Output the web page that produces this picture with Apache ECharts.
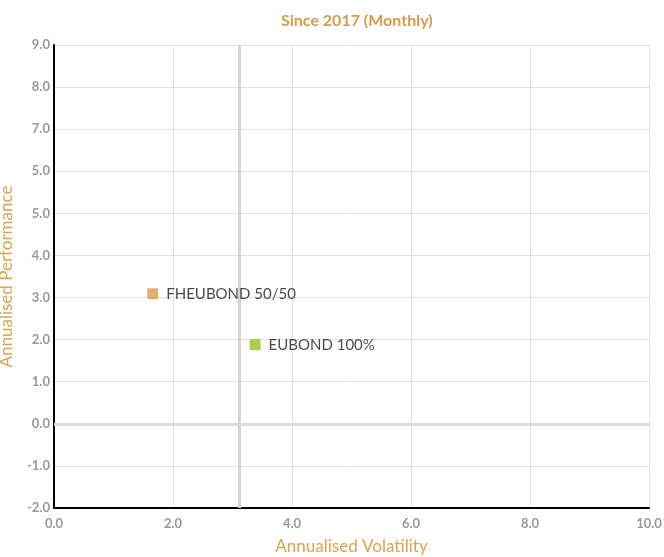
<!DOCTYPE html>
<html>
<head>
<meta charset="utf-8">
<script src="https://cdn.jsdelivr.net/npm/echarts@6/dist/echarts.min.js"></script>
<style>html,body{margin:0;padding:0;background:#fff}#c{width:664px;height:557px}</style>
</head>
<body>
<div id="c"></div>
<script>
var seriesNames = ['FHEUBOND 50/50', 'EUBOND 100%'];
var seriesColors = ['#d49d47', '#95c11f'];
var volatility = [1.66, 3.38];
var performance = [3.09, 1.88];
var referenceVolatility = 3.11;
var yTickValues = [-2, -1, 0, 1, 2, 3, 4, 5, 6, 7, 8, 9];
var yTickLabels = ['-2.0', '-1.0', '0.0', '1.0', '2.0', '3.0', '4.0', '5.0', '5.0', '7.0', '8.0', '9.0'];
var xTickLabels = ['0.0', '2.0', '4.0', '6.0', '8.0', '10.0'];

var font = 'Lato, "Noto Sans", sans-serif';
var chart = echarts.init(document.getElementById('c'));
var series = seriesNames.map(function (n, i) {
  return {
    name: n,
    type: 'scatter',
    symbol: 'rect',
    symbolSize: 11,
    itemStyle: { color: seriesColors[i] },
    data: [[volatility[i], performance[i]]],
    label: {
      show: true, position: 'right', distance: 8,
      formatter: n, color: '#1a1a1a', fontSize: 15, fontFamily: font
    },
    z: 5
  };
});
series.push({
  type: 'scatter', data: [], silent: true,
  markLine: {
    silent: true, symbol: 'none', label: { show: false },
    animation: false,
    data: [
      { xAxis: referenceVolatility, lineStyle: { color: '#d4d4d4', width: 3, type: 'solid' } },
      { yAxis: 0, lineStyle: { color: '#dcdcdc', width: 3, type: 'solid' } }
    ]
  },
  z: 1
});
chart.setOption({
  animation: false,
  title: {
    text: 'Since 2017 (Monthly)', left: 276, top: 8,
    textStyle: { color: '#d49d47', fontSize: 16, fontWeight: 'bold', fontFamily: font }
  },
  grid: { left: 54, right: 15, top: 45, bottom: 49, outerBoundsMode: 'none', containLabel: false },
  xAxis: {
    type: 'value', min: 0, max: 10, interval: 2,
    name: 'Annualised Volatility', nameLocation: 'middle', nameGap: 30,
    nameTextStyle: { color: '#d9a552', fontSize: 17, fontFamily: font },
    axisLine: { show: true, onZero: false, lineStyle: { color: '#000', width: 2 } },
    axisTick: { show: false },
    axisLabel: {
      color: '#999', fontSize: 13, fontWeight: 'bold', fontFamily: font, margin: 9,
      formatter: function (v) { return xTickLabels[Math.round(v / 2)]; }
    },
    splitLine: { show: true, lineStyle: { color: '#e2e2e2', width: 1 } }
  },
  yAxis: {
    type: 'value', min: -2, max: 9, interval: 1,
    name: 'Annualised Performance', nameLocation: 'middle', nameGap: 39,
    nameTextStyle: { color: '#d9a552', fontSize: 17, fontFamily: font },
    axisLine: { show: true, onZero: false, lineStyle: { color: '#000', width: 2 } },
    axisTick: { show: false },
    axisLabel: {
      color: '#999', fontSize: 13, fontWeight: 'bold', fontFamily: font, margin: 4,
      formatter: function (v) { return yTickLabels[yTickValues.indexOf(Math.round(v))]; }
    },
    splitLine: { show: true, lineStyle: { color: '#e2e2e2', width: 1 } }
  },
  series: series
});
</script>
</body>
</html>
